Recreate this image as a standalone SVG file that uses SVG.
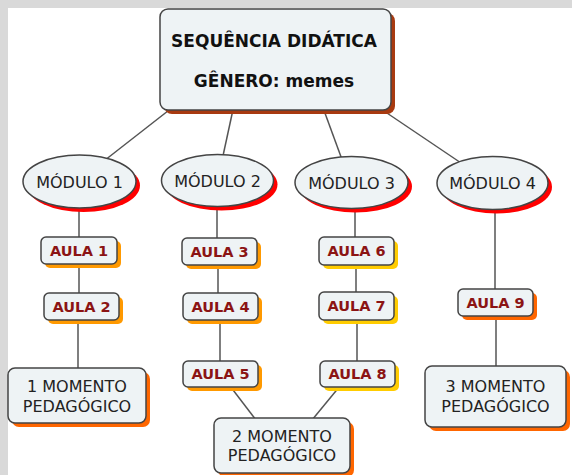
<svg xmlns="http://www.w3.org/2000/svg" width="572" height="475" viewBox="0 0 572 475">
<style>
.node{fill:#eef3f5;stroke:#444;stroke-width:1.5}
.lbl{font-family:"DejaVu Sans",Verdana,sans-serif;font-size:16px;fill:#222;text-anchor:middle}
.title{font-family:"DejaVu Sans",Verdana,sans-serif;font-size:17px;font-weight:bold;fill:#111;text-anchor:middle}
.aula{font-family:"DejaVu Sans",Verdana,sans-serif;font-size:14.5px;font-weight:bold;fill:#8b1414;text-anchor:middle}
.conn line{stroke:#555;stroke-width:1.5}
</style>
<rect x="0" y="0" width="572" height="475" fill="#fff"/>
<rect x="0" y="0" width="572" height="8" fill="#d9d9d9"/>
<rect x="0" y="0" width="8" height="475" fill="#d9d9d9"/>
<g class="conn">
<line x1="173" y1="107" x2="100" y2="164"/>
<line x1="234" y1="105" x2="221" y2="165"/>
<line x1="322" y1="105" x2="344" y2="165"/>
<line x1="378" y1="107" x2="470" y2="169"/>
<line x1="79" y1="205" x2="79" y2="240"/>
<line x1="79" y1="262" x2="79" y2="296"/>
<line x1="78" y1="318" x2="78" y2="371"/>
<line x1="217" y1="204" x2="217" y2="241"/>
<line x1="218" y1="263" x2="218" y2="296"/>
<line x1="220" y1="318" x2="220" y2="364"/>
<line x1="355" y1="206" x2="355" y2="240"/>
<line x1="356" y1="263" x2="356" y2="295"/>
<line x1="357" y1="318" x2="357" y2="364"/>
<line x1="495" y1="207" x2="495" y2="292"/>
<line x1="496" y1="314" x2="496" y2="369"/>
<line x1="230" y1="386" x2="256" y2="420"/>
<line x1="340" y1="386" x2="312" y2="420"/>
</g>
<g id="sequencia">
<rect x="164" y="13" width="231" height="101" rx="8" fill="#a83a10"/>
<rect class="node" x="160" y="9" width="231" height="101" rx="8"/>
<text class="title" x="274" y="47">SEQUÊNCIA DIDÁTICA</text>
<text class="title" x="274" y="87">GÊNERO: memes</text>
</g>
<g id="modulo1">
<ellipse cx="83.5" cy="185.5" rx="56.5" ry="26.5" fill="#f00"/>
<ellipse class="node" cx="79.5" cy="181.5" rx="56.5" ry="26.5"/>
<text class="lbl" x="79.5" y="187.5">MÓDULO 1</text>
</g>
<g id="modulo2">
<ellipse cx="221.5" cy="184.5" rx="56" ry="26" fill="#f00"/>
<ellipse class="node" cx="217.5" cy="180.5" rx="56" ry="26"/>
<text class="lbl" x="217.5" y="186.5">MÓDULO 2</text>
</g>
<g id="modulo3">
<ellipse cx="355.5" cy="186.5" rx="56.5" ry="26" fill="#f00"/>
<ellipse class="node" cx="351.5" cy="182.5" rx="56.5" ry="26"/>
<text class="lbl" x="351.5" y="188.5">MÓDULO 3</text>
</g>
<g id="modulo4">
<ellipse cx="496.5" cy="187" rx="55.5" ry="26.5" fill="#f00"/>
<ellipse class="node" cx="492.5" cy="183" rx="55.5" ry="26.5"/>
<text class="lbl" x="492.5" y="189">MÓDULO 4</text>
</g>
<g id="aula1">
<rect x="45" y="241" width="76" height="27" rx="5" fill="#ff9900"/>
<rect class="node" x="41" y="237" width="76" height="27" rx="5"/>
<text class="aula" x="79" y="255.5">AULA 1</text>
</g>
<g id="aula2">
<rect x="48" y="297" width="75" height="27" rx="5" fill="#ff9900"/>
<rect class="node" x="44" y="293" width="75" height="27" rx="5"/>
<text class="aula" x="81.5" y="311.5">AULA 2</text>
</g>
<g id="aula3">
<rect x="186" y="242" width="75" height="27" rx="5" fill="#ff9900"/>
<rect class="node" x="182" y="238" width="75" height="27" rx="5"/>
<text class="aula" x="219.5" y="256.5">AULA 3</text>
</g>
<g id="aula4">
<rect x="187" y="297" width="75" height="27" rx="5" fill="#ff9900"/>
<rect class="node" x="183" y="293" width="75" height="27" rx="5"/>
<text class="aula" x="220.5" y="311.5">AULA 4</text>
</g>
<g id="aula5">
<rect x="187" y="365" width="75" height="26" rx="5" fill="#ff9900"/>
<rect class="node" x="183" y="361" width="75" height="26" rx="5"/>
<text class="aula" x="220.5" y="379">AULA 5</text>
</g>
<g id="aula6">
<rect x="323" y="241" width="75" height="28" rx="5" fill="#ffcc00"/>
<rect class="node" x="319" y="237" width="75" height="28" rx="5"/>
<text class="aula" x="356.5" y="256">AULA 6</text>
</g>
<g id="aula7">
<rect x="323" y="296" width="75" height="28" rx="5" fill="#ffcc00"/>
<rect class="node" x="319" y="292" width="75" height="28" rx="5"/>
<text class="aula" x="356.5" y="311">AULA 7</text>
</g>
<g id="aula8">
<rect x="324" y="365" width="75" height="26" rx="5" fill="#ffcc00"/>
<rect class="node" x="320" y="361" width="75" height="26" rx="5"/>
<text class="aula" x="357.5" y="379">AULA 8</text>
</g>
<g id="aula9">
<rect x="462" y="293" width="75" height="27" rx="5" fill="#ff6600"/>
<rect class="node" x="458" y="289" width="75" height="27" rx="5"/>
<text class="aula" x="495.5" y="307.5">AULA 9</text>
</g>
<g id="momento1">
<rect x="12" y="372" width="138" height="55" rx="7" fill="#ff6600"/>
<rect class="node" x="8" y="368" width="138" height="55" rx="7"/>
<text class="lbl" x="77" y="392">1 MOMENTO</text>
<text class="lbl" x="77" y="412">PEDAGÓGICO</text>
</g>
<g id="momento2">
<rect x="218" y="422" width="136" height="55" rx="7" fill="#ff6600"/>
<rect class="node" x="214" y="418" width="136" height="55" rx="7"/>
<text class="lbl" x="282" y="442">2 MOMENTO</text>
<text class="lbl" x="282" y="461">PEDAGÓGICO</text>
</g>
<g id="momento3">
<rect x="429" y="370" width="141" height="61" rx="7" fill="#ff6600"/>
<rect class="node" x="425" y="366" width="141" height="61" rx="7"/>
<text class="lbl" x="495.5" y="392">3 MOMENTO</text>
<text class="lbl" x="495.5" y="412">PEDAGÓGICO</text>
</g>
</svg>
